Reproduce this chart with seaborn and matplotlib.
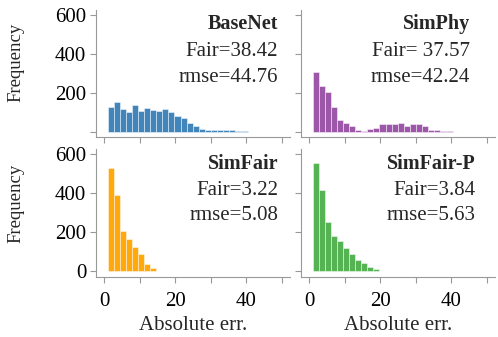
import numpy as np
import pandas as pd
import matplotlib
matplotlib.use("Agg")
import matplotlib.pyplot as plt
import seaborn as sns

# ---- data ----
models = ["BaseNet", "SimPhy", "SimFair", "SimFair-P"]
fair_text = ["Fair=38.42", "Fair= 37.57", "Fair=3.22", "Fair=3.84"]
rmse_text = ["rmse=44.76", "rmse=42.24", "rmse=5.08", "rmse=5.63"]
colors = ["#377eb8", "#984ea3", "#ffa500", "#4daf4a"]

bin_start = 0.85
bin_width = 1.72

basenet_counts = [128, 152, 115, 99, 135, 106, 121, 113, 106, 115, 103, 80,
                  72, 44, 29, 14, 9, 9, 9, 7, 7, 5, 3]
simphy_counts = [304, 233, 202, 125, 62, 46, 29, 9, 5, 15, 17, 41, 38, 41,
                 44, 29, 38, 41, 29, 9, 9, 2, 2]
simfair_counts = [529, 390, 203, 164, 124, 86, 37, 17]
simfairp_counts = [555, 416, 252, 181, 155, 117, 86, 59, 43, 19, 9]
all_counts = [basenet_counts, simphy_counts, simfair_counts, simfairp_counts]

x_ticks = [0, 10, 20, 30, 40, 50]
x_ticklabels = ["0", "", "20", "", "40", ""]
y_ticks = [0, 200, 400, 600]

sns.set_theme(style="ticks")
plt.rcParams["font.family"] = ["Liberation Serif", "DejaVu Serif"]
plt.rcParams["axes.edgecolor"] = "0.6"
plt.rcParams["xtick.color"] = "0.6"
plt.rcParams["ytick.color"] = "0.6"
plt.rcParams["xtick.labelcolor"] = "black"
plt.rcParams["ytick.labelcolor"] = "black"

fig = plt.figure(figsize=(4.98, 3.37), dpi=100)
W, H = 498.0, 337.0
boxes = [(96, 10, 290, 137), (301, 10, 495, 137),
         (96, 149, 290, 276.5), (301, 149, 495, 276.5)]
text_x = [0.94, 0.87, 0.94, 0.90]
text_y = [[0.89, 0.675, 0.47], [0.89, 0.675, 0.47],
          [0.885, 0.675, 0.475], [0.885, 0.675, 0.475]]
ylabel_y = [0.59, None, 0.57, None]

for i, (name, counts) in enumerate(zip(models, all_counts)):
    x0, y0, x1, y1 = boxes[i]
    ax = fig.add_axes([x0 / W, 1 - y1 / H, (x1 - x0) / W, (y1 - y0) / H])
    n = len(counts)
    edges = [float(bin_start + bin_width * k) for k in range(n + 1)]
    centers = [(edges[k] + edges[k + 1]) / 2 for k in range(n)]
    df = pd.DataFrame({"err": centers, "count": counts})
    sns.histplot(data=df, x="err", weights="count", bins=edges, ax=ax,
                 color=colors[i], alpha=0.95, edgecolor=(1, 1, 1, 0.55),
                 linewidth=0.6)
    ax.set_xlim(-2.4, 52.4)
    ax.set_ylim(-27, 624)
    ax.set_xticks(x_ticks)
    ax.set_yticks(y_ticks)
    ax.tick_params(length=4, width=0.8, labelsize=15)
    ax.tick_params(axis="x", pad=7)
    ax.tick_params(axis="y", pad=3)
    for sp in ["top", "right"]:
        ax.spines[sp].set_visible(False)
    for sp in ["left", "bottom"]:
        ax.spines[sp].set_linewidth(0.8)
    row, col = divmod(i, 2)
    if row == 1:
        ax.set_xticklabels(x_ticklabels)
        ax.set_xlabel("Absolute err.", fontsize=15, labelpad=4)
    else:
        ax.set_xticklabels([])
        ax.set_xlabel("")
    if col == 0:
        if row == 0:
            ax.set_yticklabels(["", "200", "400", "600"])
        else:
            ax.set_yticklabels(["0", "200", "400", "600"])
        ax.set_ylabel("Frequency", fontsize=13.5)
        ax.yaxis.set_label_coords(-0.37, ylabel_y[i])
    else:
        ax.set_yticklabels([])
        ax.set_ylabel("")
    tx = text_x[i]
    ax.text(tx, text_y[i][0], name, transform=ax.transAxes, ha="right",
            va="center", fontsize=14.5, fontweight="bold")
    ax.text(tx, text_y[i][1], fair_text[i], transform=ax.transAxes,
            ha="right", va="center", fontsize=15)
    ax.text(tx, text_y[i][2], rmse_text[i], transform=ax.transAxes,
            ha="right", va="center", fontsize=15)

fig.savefig("out.png", dpi=100)
